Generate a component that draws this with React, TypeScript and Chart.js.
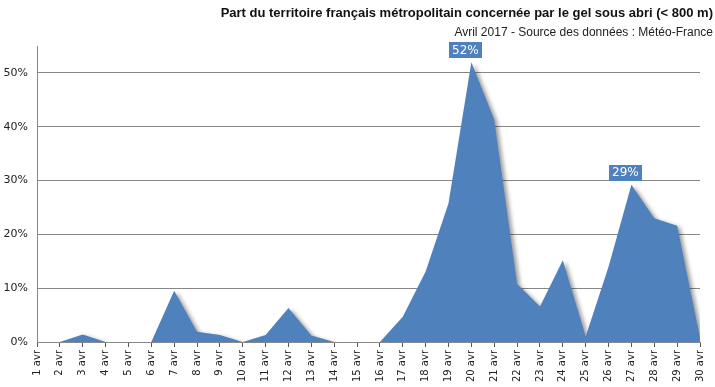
import React, { useEffect, useRef } from "react";
import { Chart, registerables } from "chart.js";

Chart.register(...registerables);

const days = [
  "1 avr", "2 avr", "3 avr", "4 avr", "5 avr", "6 avr", "7 avr", "8 avr", "9 avr", "10 avr",
  "11 avr", "12 avr", "13 avr", "14 avr", "15 avr", "16 avr", "17 avr", "18 avr", "19 avr", "20 avr",
  "21 avr", "22 avr", "23 avr", "24 avr", "25 avr", "26 avr", "27 avr", "28 avr", "29 avr", "30 avr",
];

const frostShare = [
  0, 0, 1.4, 0, 0, 0, 9.5, 1.9, 1.3, 0,
  1.3, 6.3, 1.2, 0, 0, 0, 4.7, 13.1, 25.8, 52,
  41.3, 10.8, 6.6, 15.2, 1.0, 14.0, 29.2, 23.0, 21.6, 0.8,
];

const labelledDays = ["20 avr", "27 avr"];

const yTicks = [0, 10, 20, 30, 40, 50];

const titleText = "Part du territoire français métropolitain concernée par le gel sous abri (< 800 m)";
const subtitleText = "Avril 2017 - Source des données : Météo-France";

const BLUE = "#4F81BD";
const GRID = "#878787";

const shadowPlugin = {
  id: "areaShadow",
  beforeDatasetsDraw(chart: any) {
    const ctx = chart.ctx;
    ctx.save();
    ctx.shadowColor = "rgba(0,0,0,0.4)";
    ctx.shadowOffsetX = 3;
    ctx.shadowOffsetY = 2;
    ctx.shadowBlur = 4;
  },
  afterDatasetsDraw(chart: any) {
    chart.ctx.restore();
  },
};

const labelPlugin = {
  id: "peakLabels",
  afterDatasetsDraw(chart: any) {
    const ctx = chart.ctx;
    const meta = chart.getDatasetMeta(0);
    ctx.save();
    ctx.font = "12px 'DejaVu Sans'";
    labelledDays.forEach((d) => {
      const i = days.indexOf(d);
      const pt = meta.data[i];
      if (!pt) return;
      const text = Math.round(frostShare[i]) + "%";
      const w = ctx.measureText(text).width + 6;
      const h = 16;
      const cx = pt.x - 6;
      const bottom = pt.y - 4;
      ctx.fillStyle = BLUE;
      ctx.fillRect(Math.round(cx - w / 2), Math.round(bottom - h), Math.round(w), h);
      ctx.fillStyle = "#ffffff";
      ctx.textAlign = "center";
      ctx.textBaseline = "middle";
      ctx.fillText(text, cx, bottom - h / 2 + 0.5);
    });
    ctx.restore();
  },
};

const headerPlugin = {
  id: "header",
  afterDraw(chart: any) {
    const ctx = chart.ctx;
    ctx.save();
    ctx.fillStyle = "#111";
    ctx.textAlign = "right";
    ctx.textBaseline = "alphabetic";
    ctx.font = "bold 13px 'Liberation Sans'";
    ctx.fillText(titleText, 713, 17);
    ctx.font = "12px 'Liberation Sans'";
    ctx.fillStyle = "#222";
    ctx.fillText(subtitleText, 713, 36);
    ctx.restore();
  },
};

export default function App() {
  const ref = useRef<HTMLCanvasElement>(null);

  useEffect(() => {
    if (!ref.current) return;
    const chart = new Chart(ref.current, {
      type: "line",
      data: {
        labels: days,
        datasets: [
          {
            data: frostShare,
            backgroundColor: BLUE,
            borderColor: BLUE,
            borderWidth: 0,
            pointRadius: 0,
            fill: "origin",
            tension: 0,
          },
        ],
      },
      options: {
        responsive: false,
        animation: false,
        layout: { padding: { top: 46, right: 12, left: 0, bottom: 0 } },
        plugins: {
          legend: { display: false },
          tooltip: { enabled: false },
          title: { display: false },
        },
        scales: {
          x: {
            offset: false,
            afterFit(scale: any) {
              scale.height = 45;
            },
            grid: {
              display: true,
              drawOnChartArea: false,
              drawTicks: true,
              tickLength: 5,
              color: "#555",
            },
            border: { display: true, color: GRID, width: 1 },
            ticks: {
              autoSkip: false,
              minRotation: 90,
              maxRotation: 90,
              padding: 3,
              color: "#222",
              font: { family: "'DejaVu Sans'", size: 10 },
            },
          },
          y: {
            min: 0,
            max: 55,
            afterFit(scale: any) {
              scale.width = 37;
            },
            afterBuildTicks(scale: any) {
              scale.ticks = yTicks.map((v) => ({ value: v }));
            },
            grid: { color: GRID, drawTicks: false, lineWidth: 1 },
            border: { display: true, color: GRID, width: 1 },
            ticks: {
              padding: 9,
              color: "#222",
              font: { family: "'DejaVu Sans'", size: 11 },
              callback: (v: any) => v + "%",
            },
          },
        },
      },
      plugins: [shadowPlugin, labelPlugin, headerPlugin],
    });
    return () => chart.destroy();
  }, []);

  return (
    <div style={{ position: "absolute", left: 0, top: 0, width: 715, height: 387, background: "#fff" }}>
      <canvas ref={ref} width={715} height={387} />
    </div>
  );
}
